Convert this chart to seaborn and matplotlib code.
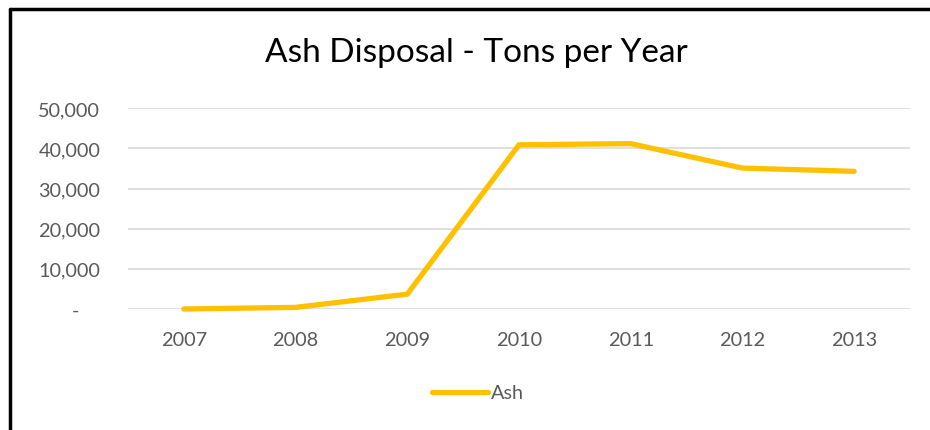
import matplotlib
matplotlib.use("Agg")
import matplotlib.pyplot as plt
from matplotlib.lines import Line2D
from matplotlib.ticker import FuncFormatter
import seaborn as sns
import pandas as pd

years = ["2007", "2008", "2009", "2010", "2011", "2012", "2013"]
ash = [0, 400, 3700, 40900, 41200, 35100, 34300]

sns.set_theme(style="white")
plt.rcParams['font.family'] = ['Lato', 'DejaVu Sans']

df = pd.DataFrame({"Year": years, "Ash": ash})

fig = plt.figure(figsize=(9.30, 4.31), dpi=100)
ax = fig.add_axes([128/930, 1-310/431, (910-128)/930, (310-109.3)/431])

sns.lineplot(data=df, x="Year", y="Ash", ax=ax, color="#FFC000", linewidth=3.8,
             label="Ash", sort=False, clip_on=False, solid_capstyle="round")

ax.set_xlim(-0.5, 6.5)
ax.set_ylim(0, 50000)
ax.set_yticks([0, 10000, 20000, 30000, 40000, 50000])
ax.yaxis.set_major_formatter(FuncFormatter(lambda v, p: "-    " if v == 0 else f"{int(v):,}"))
ax.grid(axis="y", color="#D9D9D9", linewidth=1.2)
ax.set_axisbelow(True)
for s in ax.spines.values():
    s.set_visible(False)
ax.tick_params(axis="both", length=0, labelsize=14.3, labelcolor="#595959")
ax.tick_params(axis="y", pad=20)
ax.tick_params(axis="x", pad=16)
ax.set_xlabel("")
ax.set_ylabel("")

leg = ax.legend(loc="center", bbox_to_anchor=(478/930, 1-394/431), bbox_transform=fig.transFigure,
                frameon=False, fontsize=14.3, handlelength=2.8, handletextpad=0.15)
for t in leg.get_texts():
    t.set_color("#595959")

fig.text(476/930, 1-53/431, "Ash Disposal - Tons per Year", ha="center", va="center",
         fontsize=24, color="#000000")

fig.add_artist(Line2D([10/930, 1.0], [1-10/431, 1-10/431], transform=fig.transFigure, color="black", linewidth=2.5))
fig.add_artist(Line2D([10/930, 10/930], [1-10/431, 0], transform=fig.transFigure, color="black", linewidth=2.5))

fig.savefig("out.png", dpi=100, facecolor="white")
